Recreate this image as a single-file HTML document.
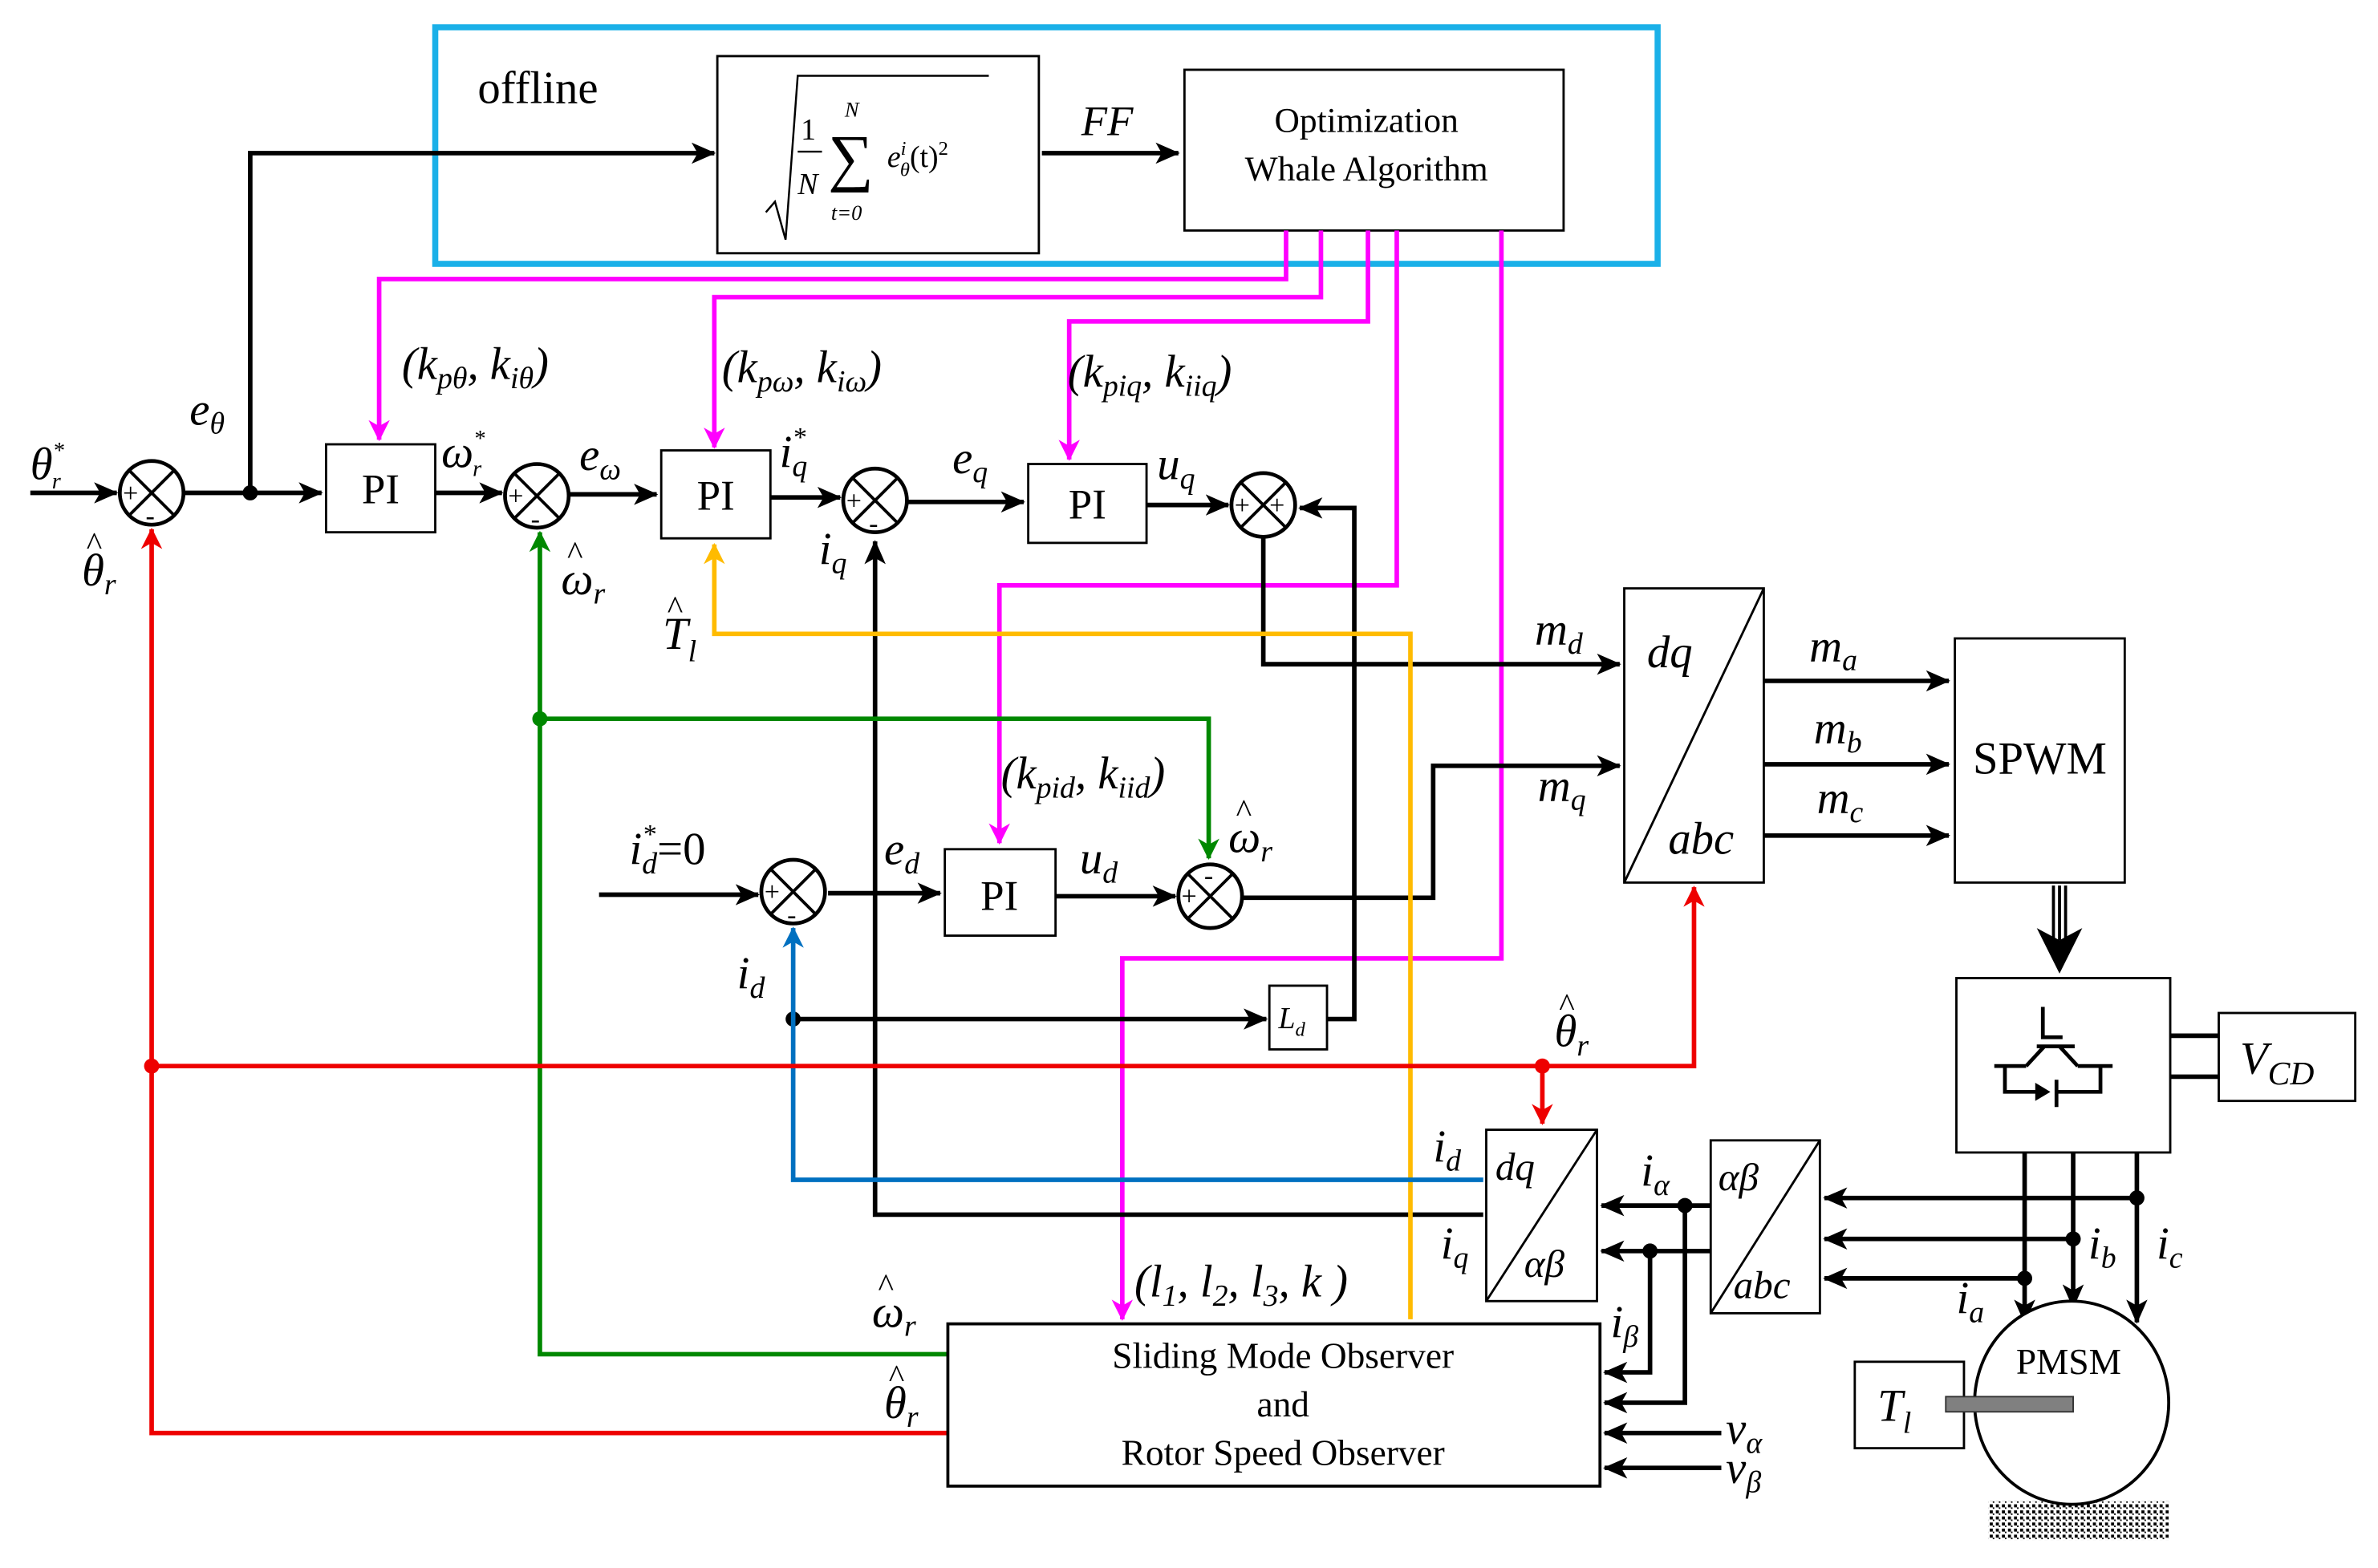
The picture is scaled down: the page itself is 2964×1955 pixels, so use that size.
<!DOCTYPE html>
<html><head><meta charset="utf-8"><style>
html,body{margin:0;padding:0;background:#fff;}
svg{display:block;}
text{font-family:"Liberation Serif","DejaVu Serif",serif;fill:#000;}
.it{font-style:italic;}
</style></head><body>
<svg width="2964" height="1955" viewBox="0 0 1568 1034" preserveAspectRatio="none" xmlns="http://www.w3.org/2000/svg" font-family="Liberation Serif, serif">
<defs>
<marker id="ab" markerWidth="16" markerHeight="14" refX="15" refY="7" orient="auto" markerUnits="userSpaceOnUse"><path d="M0,0 L16,7 L0,14 L4,7 z" fill="#000"/></marker>
<marker id="am" markerWidth="14" markerHeight="14" refX="13" refY="7" orient="auto" markerUnits="userSpaceOnUse"><path d="M0,0 L14,7 L0,14 L4,7 z" fill="#f0f"/></marker>
<marker id="ar" markerWidth="14" markerHeight="14" refX="13" refY="7" orient="auto" markerUnits="userSpaceOnUse"><path d="M0,0 L14,7 L0,14 L4,7 z" fill="#e00"/></marker>
<marker id="ag" markerWidth="14" markerHeight="14" refX="13" refY="7" orient="auto" markerUnits="userSpaceOnUse"><path d="M0,0 L14,7 L0,14 L4,7 z" fill="#080"/></marker>
<marker id="ay" markerWidth="14" markerHeight="14" refX="13" refY="7" orient="auto" markerUnits="userSpaceOnUse"><path d="M0,0 L14,7 L0,14 L4,7 z" fill="#fb0"/></marker>
<marker id="abl" markerWidth="14" markerHeight="14" refX="13" refY="7" orient="auto" markerUnits="userSpaceOnUse"><path d="M0,0 L14,7 L0,14 L4,7 z" fill="#0070c0"/></marker>
<pattern id="hatch" width="4" height="4" patternUnits="userSpaceOnUse"><rect width="4" height="4" fill="#fff"/><rect width="2" height="2" fill="#000"/><rect x="2" y="2" width="1" height="1" fill="#000"/></pattern>
</defs>

<rect x="287" y="18" width="806" height="156" fill="none" stroke="#1ab0e8" stroke-width="4"/>
<text x="315" y="68" font-size="30">offline</text>
<rect x="473" y="37" width="212" height="130" fill="none" stroke="#000" stroke-width="1.5"/>
<path d="M505,140 L511,133 L518,158 L526,50 L652,50" fill="none" stroke="#000" stroke-width="1.3"/>
<text x="528" y="92" font-size="20">1</text>
<line x1="526" y1="100" x2="542" y2="100" stroke="#000" stroke-width="1.3"/>
<text x="526" y="128" font-size="20" class="it">N</text>
<text x="546" y="118" font-size="42">∑</text>
<text x="557" y="77" font-size="14" class="it">N</text>
<text x="548" y="145" font-size="14" class="it">t=0</text>
<text x="585" y="110" font-size="20" class="it">e<tspan font-size="13" dy="-8">i</tspan><tspan font-size="13" dx="-4" dy="14">θ</tspan><tspan dy="-6" font-style="normal">(t)</tspan><tspan font-size="13" dy="-8" font-style="normal">2</tspan></text>
<line x1="687" y1="101" x2="777" y2="101" stroke="#000" stroke-width="3" marker-end="url(#ab)"/>
<text x="713" y="89" font-size="28" class="it">FF</text>
<rect x="781" y="46" width="250" height="106" fill="#fff" stroke="#000" stroke-width="1.5"/>
<text x="901" y="87" font-size="23" text-anchor="middle">Optimization</text>
<text x="901" y="119" font-size="23" text-anchor="middle">Whale Algorithm</text>
<polyline points="165,325 165,101 471,101" fill="none" stroke="#000" stroke-width="3" marker-end="url(#ab)"/>

<g fill="none" stroke="#f0f" stroke-width="3">
<polyline points="848,152 848,184 250,184 250,290" marker-end="url(#am)"/>
<polyline points="871,152 871,196 471,196 471,295" marker-end="url(#am)"/>
<polyline points="902,152 902,212 705,212 705,303" marker-end="url(#am)"/>
<polyline points="921,152 921,386 659,386 659,556" marker-end="url(#am)"/>
<polyline points="990,152 990,632 740,632 740,870" marker-end="url(#am)"/>
</g>

<g fill="none" stroke="#000" stroke-width="3">
<line x1="20" y1="325" x2="77" y2="325" marker-end="url(#ab)"/>
<line x1="121" y1="325" x2="212" y2="325" marker-end="url(#ab)"/>
<line x1="287" y1="325" x2="331" y2="325" marker-end="url(#ab)"/>
<line x1="376" y1="326" x2="433" y2="326" marker-end="url(#ab)"/>
<line x1="508" y1="328" x2="554" y2="328" marker-end="url(#ab)"/>
<line x1="599" y1="331" x2="675" y2="331" marker-end="url(#ab)"/>
<line x1="756" y1="333" x2="810" y2="333" marker-end="url(#ab)"/>
<polyline points="875,672 893,672 893,335 857,335" marker-end="url(#ab)"/>
<polyline points="833,355 833,438 1068,438" marker-end="url(#ab)"/>
<line x1="523" y1="672" x2="835" y2="672" marker-end="url(#ab)"/>
<line x1="395" y1="590" x2="500" y2="590" marker-end="url(#ab)"/>
<line x1="546" y1="589" x2="620" y2="589" marker-end="url(#ab)"/>
<line x1="696" y1="591" x2="775" y2="591" marker-end="url(#ab)"/>
<polyline points="820,592 945,592 945,505 1068,505" marker-end="url(#ab)"/>
<line x1="1163" y1="449" x2="1285" y2="449" marker-end="url(#ab)"/>
<line x1="1163" y1="504" x2="1285" y2="504" marker-end="url(#ab)"/>
<line x1="1163" y1="551" x2="1285" y2="551" marker-end="url(#ab)"/>
<polyline points="978,801 577,801 577,357" marker-end="url(#ab)"/>
</g>
<circle cx="165" cy="325" r="5" fill="#000"/>
<circle cx="523" cy="672" r="5" fill="#000"/>

<g fill="#fff" stroke="#000" stroke-width="2.5">
<circle cx="100" cy="325" r="21"/><circle cx="354" cy="327" r="21"/><circle cx="577" cy="330" r="21"/>
<circle cx="833" cy="333" r="21"/><circle cx="523" cy="588" r="21"/><circle cx="798" cy="591" r="21"/>
</g>
<g stroke="#000" stroke-width="2">
<path d="M85,310 L115,340 M115,310 L85,340"/><path d="M339,312 L369,342 M369,312 L339,342"/>
<path d="M562,315 L592,345 M592,315 L562,345"/><path d="M818,318 L848,348 M848,318 L818,348"/>
<path d="M508,573 L538,603 M538,573 L508,603"/><path d="M783,576 L813,606 M813,576 L783,606"/>
</g>
<g font-size="18">
<text x="81" y="331">+</text><text x="96" y="346">-</text>
<text x="335" y="333">+</text><text x="350" y="348">-</text>
<text x="558" y="336">+</text><text x="573" y="351">-</text>
<text x="814" y="339">+</text><text x="837" y="339">+</text>
<text x="504" y="594">+</text><text x="519" y="609">-</text>
<text x="779" y="597">+</text><text x="794" y="583">-</text>
</g>

<g fill="#fff" stroke="#000" stroke-width="1.5">
<rect x="215" y="293" width="72" height="58"/><rect x="436" y="297" width="72" height="58"/>
<rect x="678" y="306" width="78" height="52"/><rect x="623" y="560" width="73" height="57"/>
<rect x="837" y="650" width="38" height="42"/>
</g>
<g font-size="28" text-anchor="middle">
<text x="251" y="332">PI</text><text x="472" y="336">PI</text><text x="717" y="342">PI</text><text x="659" y="600">PI</text>
</g>
<text x="843" y="678" font-size="20" class="it">L<tspan font-size="13" dy="5">d</tspan></text>

<g fill="none" stroke="#080" stroke-width="3">
<polyline points="625,893 356,893 356,351" marker-end="url(#ag)"/>
<polyline points="356,474 797,474 797,566" marker-end="url(#ag)"/>
</g>
<circle cx="356" cy="474" r="5" fill="#080"/>

<polyline points="930,870 930,418 471,418 471,359" fill="none" stroke="#fb0" stroke-width="3" marker-end="url(#ay)"/>
<polyline points="978,778 523,778 523,612" fill="none" stroke="#0070c0" stroke-width="3" marker-end="url(#abl)"/>

<g fill="none" stroke="#e00" stroke-width="3">
<polyline points="625,945 100,945 100,349" marker-end="url(#ar)"/>
<polyline points="100,703 1117,703 1117,585" marker-end="url(#ar)"/>
<line x1="1017" y1="703" x2="1017" y2="741" marker-end="url(#ar)"/>
</g>
<circle cx="100" cy="703" r="5" fill="#e00"/><circle cx="1017" cy="703" r="5" fill="#e00"/>

<rect x="1071" y="388" width="92" height="194" fill="#fff" stroke="#000" stroke-width="1.5"/>
<line x1="1071" y1="582" x2="1163" y2="388" stroke="#000" stroke-width="1.5"/>
<text x="1086" y="440" font-size="30" class="it">dq</text>
<text x="1100" y="563" font-size="30" class="it">abc</text>
<rect x="1289" y="421" width="112" height="161" fill="#fff" stroke="#000" stroke-width="1.5"/>
<text x="1345" y="510" font-size="30" text-anchor="middle">SPWM</text>
<g stroke="#000" stroke-width="2"><line x1="1354" y1="584" x2="1354" y2="620"/><line x1="1358" y1="584" x2="1358" y2="620"/><line x1="1362" y1="584" x2="1362" y2="620"/></g>
<path d="M1343,612 L1358,642 L1373,612 L1358,620 z" fill="#000"/>

<rect x="1290" y="645" width="141" height="115" fill="#fff" stroke="#000" stroke-width="1.5"/>
<g stroke="#000" stroke-width="2.5" fill="none">
<path d="M1347,664 L1347,684 L1360,684 M1343,690 L1368,690 M1348,690 L1336,703 M1358,690 L1370,703 M1315,703 L1336,703 M1370,703 L1393,703 M1322,703 L1322,720 L1348,720 M1356,712 L1356,730 M1356,720 L1385,720 L1385,703"/>
</g>
<path d="M1342,714 L1352,720 L1342,726 z" fill="#000"/>
<rect x="1463" y="668" width="90" height="58" fill="#fff" stroke="#000" stroke-width="1.5"/>
<line x1="1431" y1="683" x2="1463" y2="683" stroke="#000" stroke-width="3"/>
<line x1="1431" y1="710" x2="1463" y2="710" stroke="#000" stroke-width="3"/>
<text x="1477" y="708" font-size="30" class="it">V<tspan font-size="22" dy="7">CD</tspan></text>

<rect x="980" y="745" width="73" height="113" fill="#fff" stroke="#000" stroke-width="1.5"/>
<line x1="980" y1="858" x2="1053" y2="745" stroke="#000" stroke-width="1.5"/>
<text x="986" y="778" font-size="26" class="it">dq</text>
<text x="1005" y="842" font-size="26" class="it">αβ</text>
<rect x="1128" y="752" width="72" height="114" fill="#fff" stroke="#000" stroke-width="1.5"/>
<line x1="1128" y1="866" x2="1200" y2="752" stroke="#000" stroke-width="1.5"/>
<text x="1133" y="785" font-size="26" class="it">αβ</text>
<text x="1143" y="856" font-size="26" class="it">abc</text>

<g fill="none" stroke="#000" stroke-width="3">
<line x1="1128" y1="795" x2="1056" y2="795" marker-end="url(#ab)"/>
<line x1="1128" y1="825" x2="1056" y2="825" marker-end="url(#ab)"/>
<polyline points="1111,795 1111,925 1058,925" marker-end="url(#ab)"/>
<polyline points="1088,825 1088,905 1058,905" marker-end="url(#ab)"/>
<line x1="1135" y1="945" x2="1058" y2="945" marker-end="url(#ab)"/>
<line x1="1135" y1="968" x2="1058" y2="968" marker-end="url(#ab)"/>
<line x1="1409" y1="790" x2="1203" y2="790" marker-end="url(#ab)"/>
<line x1="1367" y1="817" x2="1203" y2="817" marker-end="url(#ab)"/>
<line x1="1335" y1="843" x2="1203" y2="843" marker-end="url(#ab)"/>
<line x1="1335" y1="760" x2="1335" y2="872" marker-end="url(#ab)"/>
<line x1="1367" y1="760" x2="1367" y2="862" marker-end="url(#ab)"/>
<line x1="1409" y1="760" x2="1409" y2="872" marker-end="url(#ab)"/>
</g>
<g fill="#000"><circle cx="1111" cy="795" r="5"/><circle cx="1088" cy="825" r="5"/><circle cx="1409" cy="790" r="5"/><circle cx="1367" cy="817" r="5"/><circle cx="1335" cy="843" r="5"/></g>

<rect x="625" y="873" width="430" height="107" fill="#fff" stroke="#000" stroke-width="2"/>
<g font-size="24" text-anchor="middle">
<text x="846" y="902">Sliding Mode Observer</text><text x="846" y="934">and</text><text x="846" y="966">Rotor Speed Observer</text>
</g>

<rect x="1311" y="990" width="119" height="26" fill="url(#hatch)"/>
<ellipse cx="1366" cy="925" rx="64" ry="67" fill="#fff" stroke="#000" stroke-width="2"/>
<text x="1364" y="906" font-size="24" text-anchor="middle">PMSM</text>
<rect x="1223" y="898" width="72" height="57" fill="#fff" stroke="#000" stroke-width="1.5"/>
<rect x="1283" y="921" width="84" height="10" fill="#808080" stroke="#333"/>
<text x="1238" y="937" font-size="30" class="it">T<tspan font-size="20" dy="8">l</tspan></text>

<g class="it" font-size="30">
<text x="20" y="316">θ<tspan font-size="15" dy="-14">*</tspan><tspan font-size="15" dx="-8" dy="20">r</tspan></text>
<text x="54" y="386">θ<tspan font-size="20" dy="6">r</tspan></text>
<text x="125" y="280">e<tspan font-size="20" dy="6">θ</tspan></text>
<text x="265" y="250">(k<tspan font-size="20" dy="6">pθ</tspan><tspan dy="-6">, k</tspan><tspan font-size="20" dy="6">iθ</tspan><tspan dy="-6">)</tspan></text>
<text x="291" y="308">ω<tspan font-size="15" dy="-14">*</tspan><tspan font-size="15" dx="-8" dy="20">r</tspan></text>
<text x="382" y="310">e<tspan font-size="20" dy="6">ω</tspan></text>
<text x="370" y="392">ω<tspan font-size="20" dy="6">r</tspan></text>
<text x="476" y="252">(k<tspan font-size="20" dy="6">pω</tspan><tspan dy="-6">, k</tspan><tspan font-size="20" dy="6">iω</tspan><tspan dy="-6">)</tspan></text>
<text x="514" y="308">i<tspan font-size="18" dy="-14">*</tspan><tspan font-size="20" dx="-9" dy="20">q</tspan></text>
<text x="540" y="372">i<tspan font-size="20" dy="6">q</tspan></text>
<text x="437" y="428">T<tspan font-size="20" dy="8">l</tspan></text>
<text x="628" y="312">e<tspan font-size="20" dy="6">q</tspan></text>
<text x="704" y="255">(k<tspan font-size="20" dy="6">piq</tspan><tspan dy="-6">, k</tspan><tspan font-size="20" dy="6">iiq</tspan><tspan dy="-6">)</tspan></text>
<text x="763" y="316">u<tspan font-size="20" dy="6">q</tspan></text>
<text x="1012" y="425">m<tspan font-size="20" dy="6">d</tspan></text>
<text x="1014" y="528">m<tspan font-size="20" dy="6">q</tspan></text>
<text x="1193" y="436">m<tspan font-size="20" dy="6">a</tspan></text>
<text x="1196" y="490">m<tspan font-size="20" dy="6">b</tspan></text>
<text x="1198" y="536">m<tspan font-size="20" dy="6">c</tspan></text>
<text x="660" y="520">(k<tspan font-size="20" dy="6">pid</tspan><tspan dy="-6">, k</tspan><tspan font-size="20" dy="6">iid</tspan><tspan dy="-6">)</tspan></text>
<text x="810" y="562">ω<tspan font-size="20" dy="6">r</tspan></text>
<text x="415" y="570">i<tspan font-size="18" dy="-14">*</tspan><tspan font-size="20" dx="-9" dy="20">d</tspan><tspan dy="-6" font-style="normal">=0</tspan></text>
<text x="583" y="570">e<tspan font-size="20" dy="6">d</tspan></text>
<text x="712" y="576">u<tspan font-size="20" dy="6">d</tspan></text>
<text x="486" y="652">i<tspan font-size="20" dy="6">d</tspan></text>
<text x="1025" y="690">θ<tspan font-size="20" dy="6">r</tspan></text>
<text x="945" y="766">i<tspan font-size="20" dy="6">d</tspan></text>
<text x="950" y="830">i<tspan font-size="20" dy="6">q</tspan></text>
<text x="1082" y="782">i<tspan font-size="20" dy="6">α</tspan></text>
<text x="1062" y="882">i<tspan font-size="20" dy="6">β</tspan></text>
<text x="1377" y="830">i<tspan font-size="20" dy="6">b</tspan></text>
<text x="1422" y="830">i<tspan font-size="20" dy="6">c</tspan></text>
<text x="1290" y="866">i<tspan font-size="20" dy="6">a</tspan></text>
<text x="748" y="855">(l<tspan font-size="20" dy="6">1</tspan><tspan dy="-6">, l</tspan><tspan font-size="20" dy="6">2</tspan><tspan dy="-6">, l</tspan><tspan font-size="20" dy="6">3</tspan><tspan dy="-6">, k )</tspan></text>
<text x="575" y="875">ω<tspan font-size="20" dy="6">r</tspan></text>
<text x="583" y="935">θ<tspan font-size="20" dy="6">r</tspan></text>
<text x="1138" y="952">v<tspan font-size="20" dy="6">α</tspan></text>
<text x="1138" y="978">v<tspan font-size="20" dy="6">β</tspan></text>
</g>
<!-- hats -->
<g font-size="22">
<text x="57" y="366">^</text><text x="374" y="372">^</text><text x="440" y="408">^</text>
<text x="815" y="542">^</text><text x="1028" y="670">^</text><text x="579" y="855">^</text><text x="586" y="915">^</text>
</g>
</svg>
</body></html>
